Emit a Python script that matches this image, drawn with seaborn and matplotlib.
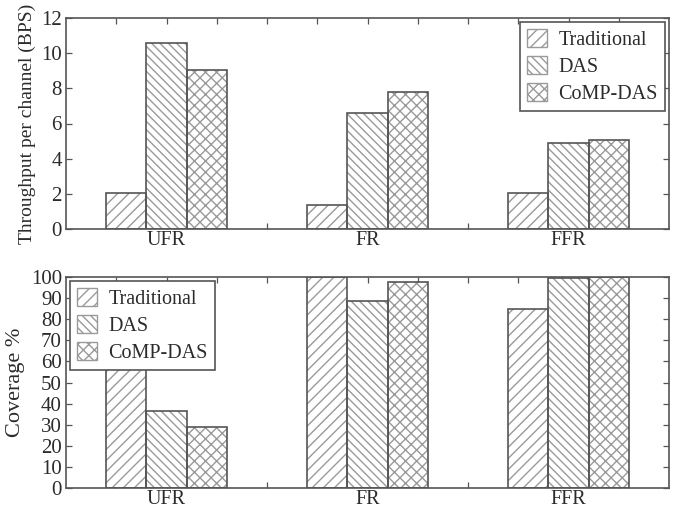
import numpy as np
import pandas as pd
import matplotlib
matplotlib.use("Agg")
import matplotlib.pyplot as plt
from matplotlib.patches import Patch, Rectangle
import seaborn as sns

# Frequency-reuse schemes and antenna architectures
schemes = ["UFR", "FR", "FFR"]
systems = ["Traditional", "DAS", "CoMP-DAS"]

# Throughput per channel (BPS)
throughput_trad = [2.05, 1.38, 2.05]
throughput_das = [10.6, 6.6, 4.88]
throughput_comp = [9.05, 7.8, 5.08]

# Coverage (%)
coverage_trad = [56.4, 100.0, 84.6]
coverage_das = [36.3, 88.8, 99.3]
coverage_comp = [28.7, 97.8, 100.0]

throughput_ticks = [0, 2, 4, 6, 8, 10, 12]
coverage_ticks = [0, 10, 20, 30, 40, 50, 60, 70, 80, 90, 100]

hatches = {"Traditional": "///", "DAS": "\\\\\\\\", "CoMP-DAS": "xxx"}

sns.set_theme(style="white")
plt.rcParams["font.family"] = ["Liberation Serif", "DejaVu Serif"]
plt.rcParams["hatch.linewidth"] = 1.0

TEXT = "#2b2b2b"
EDGE = "#555555"
HATCH = "#9a9a9a"
FS_TICK = 15
FS_XTICK = 14.5
FS_LEG = 14.5


def long_frame(trad, das, comp):
    rows = []
    for name, vals in zip(systems, [trad, das, comp]):
        for s, v in zip(schemes, vals):
            rows.append({"scheme": s, "system": name, "value": v})
    return pd.DataFrame(rows)


def draw(ax, df, ylim, yticks, ylabel, label_size, legend_loc):
    sns.barplot(data=df, x="scheme", y="value", hue="system",
                order=schemes, hue_order=systems, width=0.6,
                palette=["white"] * 3, saturation=1,
                edgecolor=HATCH, linewidth=0, legend=False, ax=ax,
                errorbar=None)
    for name, cont in zip(systems, ax.containers):
        for bar in cont.patches:
            bar.set_hatch(hatches[name])
            bar.set_edgecolor(HATCH)
            bar.set_linewidth(0)
            ax.add_patch(Rectangle(bar.get_xy(), bar.get_width(), bar.get_height(),
                                   fill=False, edgecolor=EDGE, linewidth=1.2,
                                   zorder=bar.get_zorder() + 0.1))
    ax.set_xlim(-0.5, 2.5)
    ax.set_ylim(*ylim)
    ax.set_yticks(yticks)
    xt = np.arange(-0.25, 2.5, 0.25)
    ax.set_xticks(xt)
    ax.set_xticklabels(["" if abs(t - round(t)) > 1e-9 else schemes[int(round(t))]
                        for t in xt])
    ax.set_xlabel("")
    ax.set_ylabel(ylabel, fontsize=label_size, color=TEXT, labelpad=4)
    ax.tick_params(axis="both", direction="in", length=4, width=0.9,
                   color=EDGE, labelsize=FS_TICK, labelcolor=TEXT,
                   top=True, right=True, bottom=True, left=True, pad=3)
    ax.tick_params(axis="x", pad=1.5, labelsize=FS_XTICK)
    for sp in ax.spines.values():
        sp.set_color(EDGE)
        sp.set_linewidth(1.2)
    handles = [Patch(facecolor="white", edgecolor=HATCH, hatch=hatches[n],
                     linewidth=1.0) for n in systems]
    leg = ax.legend(handles, systems, loc=legend_loc, fontsize=FS_LEG,
                    fancybox=False, framealpha=1, edgecolor=EDGE,
                    handlelength=1.0, handleheight=1.0, handletextpad=0.55,
                    borderpad=0.35, labelspacing=0.3, borderaxespad=0.2)
    leg.get_frame().set_linewidth(1.2)
    for t in leg.get_texts():
        t.set_color(TEXT)


fig = plt.figure(figsize=(6.81, 5.12), dpi=100)
ax_top = fig.add_axes([66 / 681, 1 - 229 / 512, 603 / 681, 211 / 512])
ax_bot = fig.add_axes([66 / 681, 1 - 488 / 512, 603 / 681, 211 / 512])

draw(ax_top, long_frame(throughput_trad, throughput_das, throughput_comp),
     (0, 12), throughput_ticks, "Throughput per channel (BPS)", 14, "upper right")
draw(ax_bot, long_frame(coverage_trad, coverage_das, coverage_comp),
     (0, 100), coverage_ticks, "Coverage %", 16, "upper left")

fig.savefig("out.png", dpi=100)
